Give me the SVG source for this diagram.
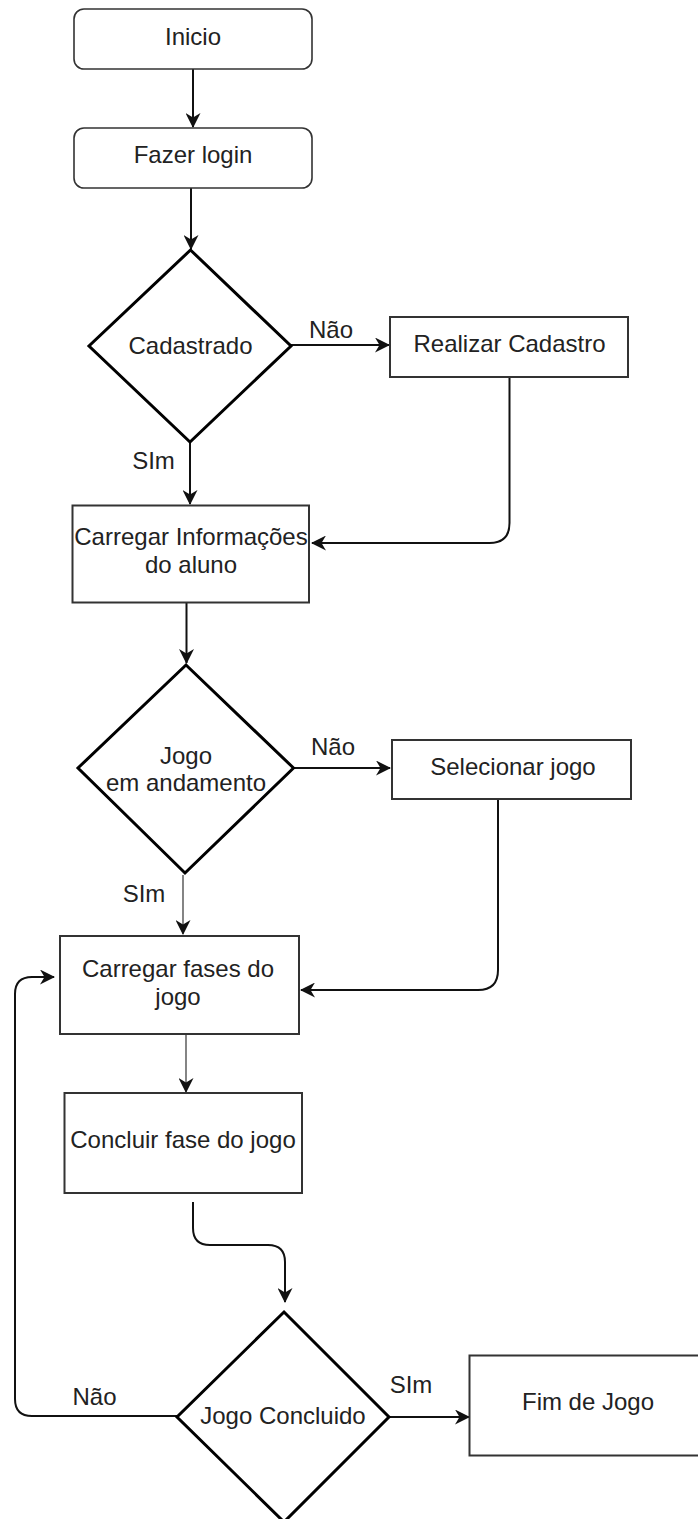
<svg xmlns="http://www.w3.org/2000/svg" width="698" height="1519" viewBox="0 0 698 1519">
<defs>
<style>
.box{fill:#fff;stroke:#333;stroke-width:2}
.rbox{fill:#fff;stroke:#333;stroke-width:1.6}
.dia{fill:#fff;stroke:#000;stroke-width:3;stroke-linejoin:miter}
.t{font-family:"Liberation Sans",Arial,sans-serif;font-size:24px;fill:#222;text-anchor:middle}
.c{fill:none;stroke:#111;stroke-width:2}
.cthin{fill:none;stroke:#333;stroke-width:1.2}
</style>
<marker id="arr" markerUnits="userSpaceOnUse" markerWidth="15" markerHeight="15" viewBox="0 0 15 15" refX="14" refY="7.5" orient="auto">
<path d="M0,0 L15,7.5 L0,15 L4.5,7.5 Z" fill="#111"/>
</marker>
</defs>
<rect width="698" height="1519" fill="#fff"/>

<g id="connectors">
<path class="c" d="M193,69 V127" marker-end="url(#arr)"/>
<path class="c" d="M191,188 V249" marker-end="url(#arr)"/>
<path class="c" d="M291,345 H389" marker-end="url(#arr)"/>
<path class="c" d="M190,442 V504" marker-end="url(#arr)"/>
<path class="c" d="M509.5,377 V523 Q509.5,543 489.5,543 H312" marker-end="url(#arr)"/>
<path class="c" d="M186.5,603 V663" marker-end="url(#arr)"/>
<path class="c" d="M294,768 H390" marker-end="url(#arr)"/>
<path class="cthin" d="M183,875 V934" marker-end="url(#arr)"/>
<path class="c" d="M498,799 V970 Q498,990 478,990 H301" marker-end="url(#arr)"/>
<path class="cthin" d="M186,1034 V1092" marker-end="url(#arr)"/>
<path class="c" d="M193,1202 V1228 Q193,1245 210,1245 H268 Q285,1245 285,1262 V1302" marker-end="url(#arr)"/>
<path class="c" d="M389,1417 H469" marker-end="url(#arr)"/>
<path class="c" d="M177,1416 H32 Q15,1416 15,1399 V994 Q15,977 32,977 H54" marker-end="url(#arr)"/>
<text class="t" x="331" y="338">Não</text>
<text class="t" x="153.5" y="469">SIm</text>
<text class="t" x="333" y="755">Não</text>
<text class="t" x="144" y="902">SIm</text>
<text class="t" x="411" y="1393">SIm</text>
<text class="t" x="94.5" y="1405">Não</text>
</g>

<g id="inicio">
<rect class="rbox" x="74" y="9" width="238" height="60" rx="10"/>
<text class="t" x="193" y="45">Inicio</text>
</g>
<g id="fazer-login">
<rect class="rbox" x="74" y="128" width="238" height="60" rx="10"/>
<text class="t" x="193" y="163">Fazer login</text>
</g>
<g id="cadastrado">
<polygon class="dia" points="190.5,250 291,346 190,442 89,346"/>
<text class="t" x="190.5" y="354">Cadastrado</text>
</g>
<g id="realizar-cadastro">
<rect class="box" x="390" y="317" width="238" height="60"/>
<text class="t" x="509.5" y="352">Realizar Cadastro</text>
</g>
<g id="carregar-info">
<rect class="box" x="72.5" y="505.5" width="236.5" height="97"/>
<text class="t" x="191" y="545">Carregar Informações</text>
<text class="t" x="191" y="573">do aluno</text>
</g>
<g id="jogo-andamento">
<polygon class="dia" points="186,665 293.5,768 185,873 78,768"/>
<text class="t" x="186" y="764">Jogo</text>
<text class="t" x="186" y="791">em andamento</text>
</g>
<g id="selecionar-jogo">
<rect class="box" x="392" y="740" width="239" height="59"/>
<text class="t" x="513" y="775">Selecionar jogo</text>
</g>
<g id="carregar-fases">
<rect class="box" x="60" y="936" width="239" height="98"/>
<text class="t" x="178" y="977">Carregar fases do</text>
<text class="t" x="178" y="1005">jogo</text>
</g>
<g id="concluir-fase">
<rect class="box" x="64.5" y="1093" width="237.5" height="100"/>
<text class="t" x="183" y="1148">Concluir fase do jogo</text>
</g>
<g id="jogo-concluido">
<polygon class="dia" points="284,1312 389,1417 284,1522 177,1417"/>
<text class="t" x="283" y="1424">Jogo Concluido</text>
</g>
<g id="fim-de-jogo">
<rect class="box" x="469.5" y="1355.5" width="240" height="100"/>
<text class="t" x="588" y="1410">Fim de Jogo</text>
</g>
</svg>
